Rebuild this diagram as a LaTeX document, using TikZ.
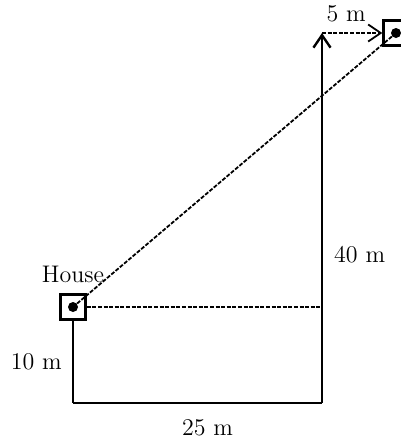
\documentclass[tikz,border=0pt]{standalone}
\usetikzlibrary{arrows.meta,positioning}

\begin{document}
\begin{tikzpicture}[x=0.5pt,y=-0.5pt,
      lbl/.style={font=\fontsize{12}{14}\selectfont,inner sep=0pt},
      spotbox/.style={draw,line width=1.2pt,minimum size=12.5pt,inner sep=0pt},
      spotdot/.style={circle,fill,inner sep=0pt,minimum size=5pt},
      solid line/.style={line width=1.2pt},
      trail/.style={line width=0.9pt,dash pattern=on 2pt off 0.8pt},
      >={Straight Barb[length=2.2mm,width=3mm]}]
    \useasboundingbox (0,0) rectangle (401,440);
    \node[spotbox] (house) at (73,307) {};
    \node[spotdot] (hdot) at (house.center) {};
    \node[spotbox] (spot) at (396,33) {};
    \node[spotdot] (sdot) at (spot.center) {};
    \node[lbl,above=5pt of house] (hlbl) {House};
    \coordinate (bl) at (73,403);
    \coordinate (br) at (322,403);
    \coordinate (tp) at (322,33);
    \coordinate (mid) at (322,307);
    \draw[solid line] (house.south) -- (bl)
      node[lbl,midway,left=5pt] (ten) {10 m};
    \draw[solid line] (bl) -- (br)
      node[lbl,midway,below=7.5pt,xshift=5pt] (twfive) {25 m};
    \draw[solid line,->] (br) -- (tp)
      node[lbl,pos=0.4,right=5.5pt] (forty) {40 m};
    \draw[trail,->] (tp) -- (spot.west)
      node[lbl,midway,above=5pt,xshift=-3pt] (five) {5 m};
    \draw[trail] (house.east) -- (mid);
    \draw[trail] (hdot) -- (sdot);
  \end{tikzpicture}
\end{document}
